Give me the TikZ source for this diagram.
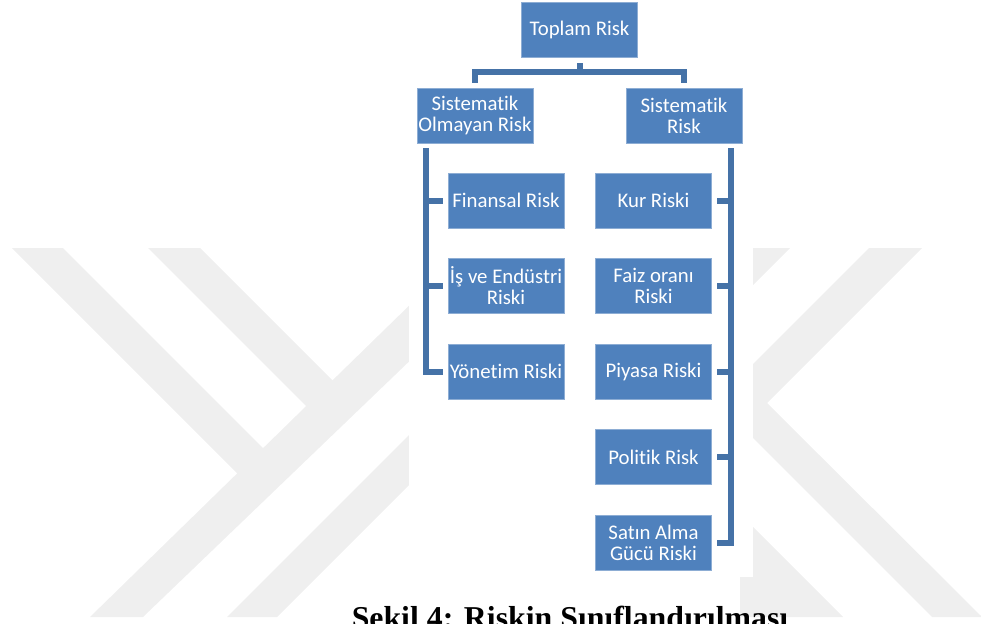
\documentclass[tikz,border=0pt]{standalone}
\usepackage{fontspec}
\setmainfont{Carlito}[Ligatures=NoCommon]
\newfontfamily\capfont{Liberation Serif}
\usetikzlibrary{calc}
\definecolor{boxblue}{RGB}{79,129,189}
\definecolor{linkblue}{RGB}{69,114,167}
\definecolor{wm}{RGB}{239,239,239}
\begin{document}
\begin{tikzpicture}[x=1pt,y=-1pt,
  rbox/.style={rectangle, fill=boxblue, draw=boxblue!65!white, line width=0.8pt,
    minimum width=116pt, minimum height=55pt, inner sep=0pt, text=white,
    align=center, font=\fontsize{20.8}{21}\selectfont},
  conn/.style={draw=linkblue, line width=6pt, line join=miter},
  capstyle/.style={font=\capfont\bfseries\fontsize{31.8}{34}\selectfont, anchor=base, inner sep=0pt}]
\useasboundingbox (0,0) rectangle (981,623);
\clip (0,0) rectangle (981,623);
% watermark
\fill[wm] (12,248) -- (63,248) -- (277.5,462.5) -- (252,488) -- cycle;
\fill[wm] (148,248) -- (200,248) -- (346,394) -- (320,420) -- cycle;
\fill[wm] (90,617) -- (420,295) -- (420,351) -- (143,617) -- cycle;
\fill[wm] (227,617) -- (420,424) -- (420,474) -- (277,617) -- cycle;
\fill[wm] (730,248) -- (790,248) -- (730,308) -- cycle;
\fill[wm] (869,248) -- (922,248) -- (767,403) -- (982,617) -- (932,617) -- (740,425) -- (740,377) -- cycle;
\fill[wm] (740,514) -- (843,617) -- (740,617) -- cycle;
% white sheet
\fill[white] (409,0) rectangle (753,577);
% nodes
\node[rbox] (top) at (579.5,29.5) {Toplam Risk};
\node[rbox] (sor) at (475,115.5) {Sistematik\\Olmayan Risk};
\node[rbox] (sr) at (684,115.5) {Sistematik\\Risk};
\node[rbox] (l1) at (506,200.5) {Finansal Risk};
\node[rbox] (l2) at (506,286) {İş ve Endüstri\\Riski};
\node[rbox] (l3) at (506,371.5) {Yönetim Riski};
\node[rbox] (r1) at (653.5,200.5) {Kur Riski};
\node[rbox] (r2) at (653.5,286) {Faiz oranı\\Riski};
\node[rbox] (r3) at (653.5,371.5) {Piyasa Riski};
\node[rbox] (r4) at (653.5,457) {Politik Risk};
\node[rbox] (r5) at (653.5,542.5) {Satın Alma\\Gücü Riski};
% connectors
\coordinate (hbar) at (579.5,72);
\draw[conn] ([yshift=-6pt]top.south) -- (top.south |- hbar);
\draw[conn] ([yshift=5pt]sor.north) |- (hbar) -| ([yshift=5pt]sr.north);
\coordinate (lbar) at ([xshift=9pt,yshift=-5pt]sor.south west);
\draw[conn] (lbar) |- ([xshift=-5pt]l3.west);
\draw[conn] (lbar |- l1.west) -- ([xshift=-5pt]l1.west);
\draw[conn] (lbar |- l2.west) -- ([xshift=-5pt]l2.west);
\coordinate (rbar) at ([xshift=-11pt,yshift=-5pt]sr.south east);
\draw[conn] (rbar) |- ([xshift=5pt]r5.east);
\draw[conn] (rbar |- r1.east) -- ([xshift=5pt]r1.east);
\draw[conn] (rbar |- r2.east) -- ([xshift=5pt]r2.east);
\draw[conn] (rbar |- r3.east) -- ([xshift=5pt]r3.east);
\draw[conn] (rbar |- r4.east) -- ([xshift=5pt]r4.east);
% caption (cut by the lower edge, as in the reference)
\node[capstyle] (cap) at (570,628) {Şekil 4: Riskin Sınıflandırılması};
\end{tikzpicture}
\end{document}
